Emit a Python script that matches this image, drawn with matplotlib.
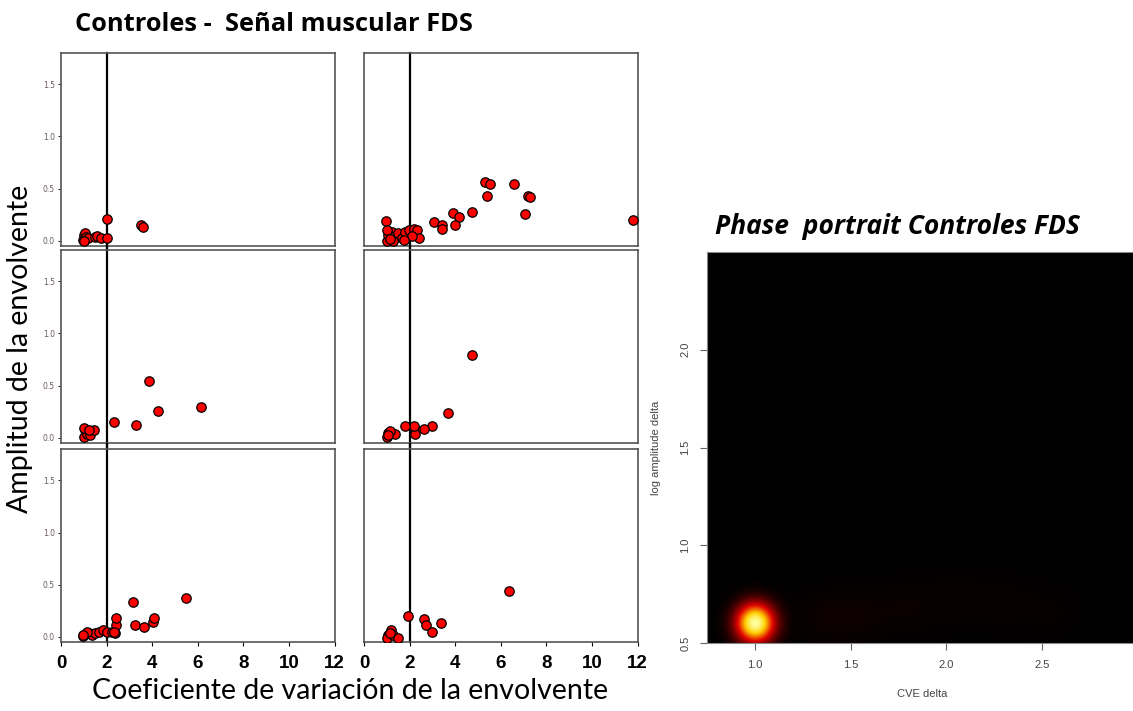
import numpy as np
import matplotlib.pyplot as plt
from matplotlib.colors import LinearSegmentedColormap

# ---------------- data
THRESHOLD = 2.0

p1_x = [0.96, 1.0, 1.05, 1.1, 1.17, 1.02, 1.5, 1.6, 1.75, 2.0, 2.03, 3.5, 3.62]
p1_y = [0.01, 0.06, 0.07, 0.04, 0.03, 0.0, 0.04, 0.05, 0.03, 0.21, 0.03, 0.15, 0.13]

p2_x = [0.96, 1.0, 1.07, 1.22, 1.37, 1.51, 1.66, 1.81, 1.96, 2.18, 2.32, 2.4, 1.29,
        1.0, 1.15, 2.1, 1.74, 3.06, 3.4, 3.4, 3.9, 4.16, 4.0, 4.75, 5.31, 5.53,
        5.38, 6.56, 7.18, 7.29, 7.07, 11.78]
p2_y = [0.19, 0.0, 0.06, 0.08, 0.05, 0.07, 0.03, 0.08, 0.1, 0.11, 0.1, 0.03, 0.0,
        0.1, 0.02, 0.05, 0.01, 0.18, 0.15, 0.11, 0.27, 0.23, 0.15, 0.28, 0.56, 0.54,
        0.43, 0.54, 0.43, 0.42, 0.26, 0.2]

p3_x = [1.07, 0.99, 1.14, 1.29, 1.47, 0.99, 1.21, 2.33, 3.29, 3.84, 4.25, 6.12]
p3_y = [0.07, 0.01, 0.04, 0.03, 0.07, 0.09, 0.07, 0.15, 0.12, 0.54, 0.26, 0.29]

p4_x = [4.72, 3.68, 2.96, 2.65, 2.25, 2.25, 2.18, 1.78, 1.34, 1.07, 1.0, 1.15, 1.04]
p4_y = [0.79, 0.24, 0.11, 0.08, 0.08, 0.04, 0.11, 0.11, 0.04, 0.05, 0.01, 0.06, 0.03]

p5_x = [0.96, 1.07, 1.21, 1.36, 1.51, 1.66, 1.85, 2.03, 2.25, 2.36, 2.4, 2.41,
        3.14, 3.26, 3.63, 4.04, 4.06, 5.48, 1.14, 0.96, 2.33]
p5_y = [0.01, 0.03, 0.04, 0.02, 0.04, 0.05, 0.07, 0.05, 0.05, 0.04, 0.11, 0.18,
        0.33, 0.11, 0.09, 0.14, 0.18, 0.37, 0.05, 0.02, 0.05]

p6_x = [6.37, 1.93, 2.65, 2.72, 2.96, 3.38, 1.19, 1.04, 1.0, 1.29, 1.51, 1.15]
p6_y = [0.44, 0.2, 0.17, 0.11, 0.05, 0.13, 0.07, 0.02, -0.01, 0.02, -0.01, 0.04]

panels_x = [p1_x, p2_x, p3_x, p4_x, p5_x, p6_x]
panels_y = [p1_y, p2_y, p3_y, p4_y, p5_y, p6_y]

x_ticks = [0, 2, 4, 6, 8, 10, 12]
y_ticks = [0.0, 0.5, 1.0, 1.5]

# phase portrait: density centres (cve, log amplitude, weight, bandwidth)
phase_cve = [1.0, 1.35, 1.55, 1.8, 2.05, 2.3, 2.55]
phase_amp = [0.60, 0.62, 0.64, 0.68, 0.72, 0.70, 0.66]
phase_w   = [1.0, 0.02, 0.02, 0.018, 0.016, 0.014, 0.012]
phase_bw  = [0.068, 0.11, 0.11, 0.11, 0.11, 0.11, 0.11]

# ---------------- figure
fig = plt.figure(figsize=(11.33, 7.11), dpi=100)

col_left = [0.0538, 0.3213]
col_w = 0.2415
row_bottom = [0.654, 0.377, 0.097]
row_h = 0.2714

for i in range(6):
    r, c = divmod(i, 2)
    ax = fig.add_axes([col_left[c], row_bottom[r], col_w, row_h])
    ax.scatter(panels_x[i], panels_y[i], s=46, color="red",
               edgecolor="black", linewidth=0.9, zorder=3)
    # threshold line runs on through the gaps between rows
    lo = 0.0 if r == 2 else -0.025
    hi = 1.0 if r == 0 else 1.025
    ax.axvline(THRESHOLD, ymin=lo, ymax=hi, color="black", lw=1.6, zorder=2,
               clip_on=False)
    ax.set_xlim(0, 12)
    ax.set_ylim(-0.05, 1.8)
    for sp in ax.spines.values():
        sp.set_color("#555555")
        sp.set_linewidth(1.2)
    if c == 0:
        ax.set_yticks(y_ticks)
        ax.set_yticklabels([f"{v:.1f}" for v in y_ticks], fontsize=5.5,
                           color="#6a5a5a")
        ax.tick_params(axis="y", length=2.5, width=0.6, pad=2)
    else:
        ax.set_yticks([])
    if r == 2:
        ax.set_xticks(x_ticks)
        ax.set_xticklabels([str(v) for v in x_ticks], fontsize=13.5,
                           fontweight="bold", family="Liberation Sans")
        ax.tick_params(axis="x", length=3, width=0.8, pad=6)
    else:
        ax.set_xticks([])

fig.text(0.066, 0.966, "Controles -  Señal muscular FDS", fontsize=18.3,
         fontweight="bold", family="Open Sans", ha="left", va="center")
fig.text(0.018, 0.51, "Amplitud de la envolvente", fontsize=20.5, family="Lato",
         rotation=90, ha="center", va="center")
fig.text(0.309, 0.028, "Coeficiente de variación de la envolvente", fontsize=20.5,
         family="Lato", ha="center", va="center")

# ---------------- phase portrait
heat = LinearSegmentedColormap.from_list(
    "heat", [(0.0, "black"), (0.4, "#e00000"), (0.75, "#ffd000"), (1.0, "#ffffa0")])

axh = fig.add_axes([0.624, 0.0956, 0.38, 0.55])
gx = np.linspace(0.75, 3.0, 400)
gy = np.linspace(0.5, 2.5, 400)
GX, GY = np.meshgrid(gx, gy)
dens = np.zeros_like(GX)
for cx, cy, w, bw in zip(phase_cve, phase_amp, phase_w, phase_bw):
    dens += w * np.exp(-((GX - cx) ** 2 + (GY - cy) ** 2) / (2 * bw ** 2))
axh.imshow(dens, origin="lower", extent=[0.75, 3.0, 0.5, 2.5], cmap=heat,
           aspect="auto", interpolation="bilinear", vmin=0, vmax=dens.max())
axh.set_xlim(0.75, 3.0)
axh.set_ylim(0.5, 2.5)
axh.set_xticks([1.0, 1.5, 2.0, 2.5])
axh.set_yticks([0.5, 1.0, 1.5, 2.0])
axh.tick_params(labelsize=8, labelcolor="#444444", color="#666666", length=5,
                pad=7)
for lab in axh.get_xticklabels() + axh.get_yticklabels():
    lab.set_family("Liberation Sans")
for lab in axh.get_yticklabels():
    lab.set_rotation(90)
    lab.set_va("center")
axh.set_xlabel("CVE delta", fontsize=8, color="#444444", labelpad=14,
               family="Liberation Sans")
axh.set_ylabel("log amplitude delta", fontsize=8, color="#444444", labelpad=14,
               family="Liberation Sans")
for sp in axh.spines.values():
    sp.set_color("#888888")
    sp.set_linewidth(0.8)
fig.text(0.631, 0.682, "Phase  portrait Controles FDS", fontsize=19,
         fontweight="bold", fontstyle="italic", family="Open Sans",
         ha="left", va="center")

fig.savefig("out.png", dpi=100)
